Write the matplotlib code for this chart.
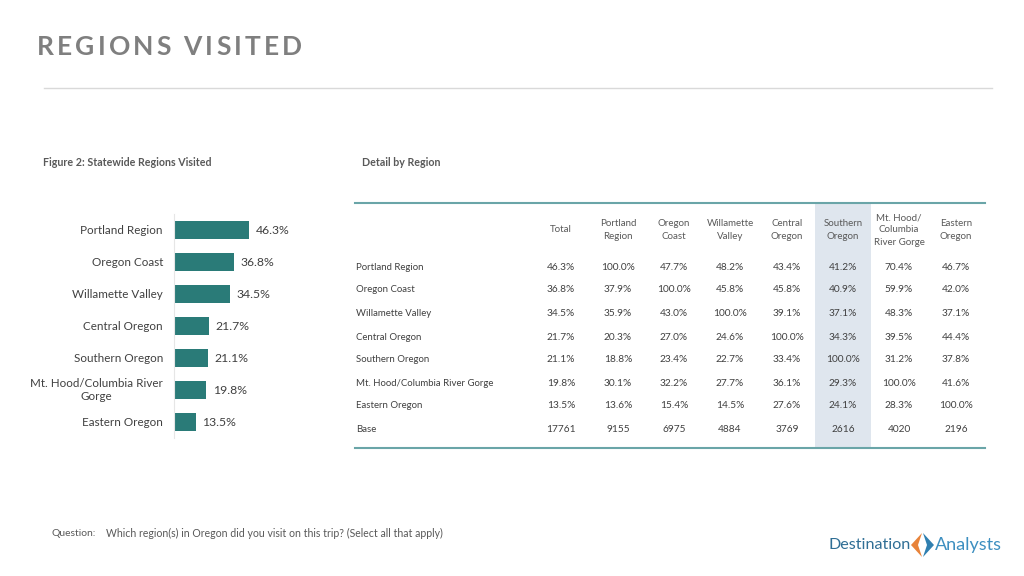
import matplotlib
matplotlib.use("Agg")
import matplotlib.pyplot as plt
from matplotlib.patches import Rectangle, Polygon

plt.rcParams['font.family'] = ['Lato', 'DejaVu Sans']

# ---------------- data ----------------
bar_categories = ["Portland Region", "Oregon Coast", "Willamette Valley", "Central Oregon",
                  "Southern Oregon", "Mt. Hood/Columbia River\nGorge", "Eastern Oregon"]
bar_values = [46.3, 36.8, 34.5, 21.7, 21.1, 19.8, 13.5]

col_headers = ["Total", "Portland\nRegion", "Oregon\nCoast", "Willamette\nValley", "Central\nOregon",
               "Southern\nOregon", "Mt. Hood/\nColumbia\nRiver Gorge", "Eastern\nOregon"]
row_labels = ["Portland Region", "Oregon Coast", "Willamette Valley", "Central Oregon",
              "Southern Oregon", "Mt. Hood/Columbia River Gorge", "Eastern Oregon", "Base"]
table_portland = [46.3, 100.0, 47.7, 48.2, 43.4, 41.2, 70.4, 46.7]
table_coast = [36.8, 37.9, 100.0, 45.8, 45.8, 40.9, 59.9, 42.0]
table_willamette = [34.5, 35.9, 43.0, 100.0, 39.1, 37.1, 48.3, 37.1]
table_central = [21.7, 20.3, 27.0, 24.6, 100.0, 34.3, 39.5, 44.4]
table_southern = [21.1, 18.8, 23.4, 22.7, 33.4, 100.0, 31.2, 37.8]
table_mthood = [19.8, 30.1, 32.2, 27.7, 36.1, 29.3, 100.0, 41.6]
table_eastern = [13.5, 13.6, 15.4, 14.5, 27.6, 24.1, 28.3, 100.0]
table_base = [17761, 9155, 6975, 4884, 3769, 2616, 4020, 2196]
highlight_col = 5

W, H = 1024, 576
fig = plt.figure(figsize=(W / 100, H / 100), dpi=100)

# overlay axes in pixel coordinates
ov = fig.add_axes([0, 0, 1, 1])
ov.set_xlim(0, W)
ov.set_ylim(H, 0)
ov.axis('off')

TXT = '#404040'
GRAY = '#595959'
TEAL = '#2a7b78'

# title with letter spacing
def tracked_text(ax, x, y, s, tracking, **kw):
    fig.canvas.draw()
    r = fig.canvas.get_renderer()
    inv = ax.transData.inverted()
    cx = x
    for ch in s:
        t = ax.text(cx, y, ch, ha='left', va='center', **kw)
        bb = t.get_window_extent(renderer=r)
        p0 = inv.transform((bb.x0, bb.y0))
        p1 = inv.transform((bb.x1, bb.y0))
        w = p1[0] - p0[0]
        if ch == ' ':
            w = kw.get('fontsize', 10) * 0.3
        cx += w + tracking

tracked_text(ov, 37, 47, "REGIONS VISITED", 3.2, fontsize=19, fontweight='bold', color='#7f7f7f')
ov.plot([44, 992], [88, 88], color='#d9d9d9', lw=1)

ov.text(43, 163, "Figure 2: Statewide Regions Visited", fontsize=7.7, fontweight='bold',
        color=GRAY, ha='left', va='center')
ov.text(362, 163, "Detail by Region", fontsize=7.7, fontweight='bold',
        color=GRAY, ha='left', va='center')

# ---------------- bar chart ----------------
bx0, bpx = 174, 162  # 0..100%
btop, bbot = 214, 438
ax = fig.add_axes([bx0 / W, 1 - bbot / H, bpx / W, (bbot - btop) / H])
ypos = list(range(len(bar_categories)))
ax.barh(ypos, bar_values, height=0.57, color=TEAL)
ax.set_xlim(0, 100)
ax.set_ylim(len(bar_categories) - 0.5, -0.5)
ax.set_yticks([])
ax.set_xticks([])
for s in ['top', 'right', 'bottom']:
    ax.spines[s].set_visible(False)
ax.spines['left'].set_color('#e6e6e6')
ax.patch.set_alpha(0)
ytr = ax.get_yaxis_transform()
for yv, cat in zip(ypos, bar_categories):
    ax.text(-11 / bpx, yv, cat, transform=ytr, fontsize=8.4, color=TXT, ha='right',
            va='center', multialignment='center', linespacing=1.15, clip_on=False)
for yv, v in zip(ypos, bar_values):
    ax.text(v + 4, yv, f"{v:.1f}%", fontsize=8.8, color=TXT, ha='left', va='center')

# ---------------- table ----------------
tx0, tx1 = 355, 985
ttop, tbot = 203, 448
col_x = [561, 618, 674, 730, 787, 843, 899, 956]
row_y = [267, 290, 313, 337, 360, 383, 406, 429]
hl_w = 56
FS = 7.0
ov.add_patch(Rectangle((col_x[highlight_col] - hl_w / 2, ttop), hl_w, tbot - ttop,
                       facecolor='#dfe6ee', edgecolor='none', zorder=0))
ov.plot([tx0, tx1], [ttop, ttop], color='#6aa5a8', lw=1.5)
ov.plot([tx0, tx1], [tbot, tbot], color='#6aa5a8', lw=1.5)

for cx, hd in zip(col_x, col_headers):
    ov.text(cx, 230, hd, fontsize=FS, color=GRAY, ha='center', va='center', linespacing=1.45)

table_rows = [table_portland, table_coast, table_willamette, table_central,
              table_southern, table_mthood, table_eastern]
for ry, lab in zip(row_y, row_labels):
    ov.text(356, ry, lab, fontsize=6.9, color=TXT, ha='left', va='center')
for ry, vals in zip(row_y, table_rows):
    for cx, v in zip(col_x, vals):
        ov.text(cx, ry, f"{v:.1f}%", fontsize=7.3, color=TXT, ha='center', va='center')
for cx, v in zip(col_x, table_base):
    ov.text(cx, row_y[-1], f"{v}", fontsize=7.3, color=TXT, ha='center', va='center')

# ---------------- footer ----------------
ov.text(52, 533, "Question:", fontsize=7.5, color=GRAY, ha='left', va='center')
ov.text(106, 533, "Which region(s) in Oregon did you visit on this trip? (Select all that apply)",
        fontsize=7.6, color=GRAY, ha='left', va='center')

# logo
ov.text(828, 545, "Destination", fontsize=11.6, color='#2f6e95', ha='left', va='center')
ov.text(935, 545, "Analysts", fontsize=13, color='#3d8fc0', ha='left', va='center')
ov.add_patch(Polygon([[922, 533], [911, 545], [922, 557], [918, 545]], closed=True,
                     facecolor='#e8833a', edgecolor='none'))
ov.add_patch(Polygon([[923, 533], [934, 545], [923, 557], [927, 545]], closed=True,
                     facecolor='#2f7fb0', edgecolor='none'))

fig.savefig("out.png", dpi=100)
